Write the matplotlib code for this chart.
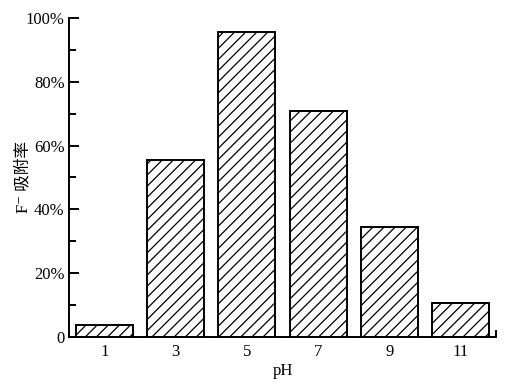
import matplotlib.pyplot as plt
import matplotlib as mpl
from matplotlib.ticker import MultipleLocator, FuncFormatter

# data
ph_labels = ['1', '3', '5', '7', '9', '11']
adsorption = [3.8, 55.5, 95.6, 70.8, 34.5, 10.7]  # F- adsorption rate, %

plt.rcParams['font.family'] = ['Liberation Serif', 'DejaVu Serif', 'Noto Sans CJK SC']
plt.rcParams['font.size'] = 12
mpl.rcParams['hatch.linewidth'] = 0.9

fig = plt.figure(figsize=(5.26, 3.85), dpi=100)
ax = fig.add_axes([0.131, 0.125, 0.812, 0.828])

x = range(len(ph_labels))
ax.bar(x, adsorption, width=0.8, color='white', edgecolor='black',
       linewidth=1.4, hatch='///')

ax.set_xlim(-0.5, 5.5)
ax.set_ylim(0, 100)
ax.set_xticks(list(x))
ax.set_xticklabels(ph_labels)
ax.tick_params(axis='x', length=0, pad=5)
ax.set_xticks([5.5], minor=True)
ax.tick_params(axis='x', which='minor', direction='in', length=5, width=1.4)

ax.yaxis.set_major_locator(MultipleLocator(20))
ax.yaxis.set_minor_locator(MultipleLocator(10))
ax.yaxis.set_major_formatter(FuncFormatter(lambda v, p: '0' if v == 0 else f'{v:.0f}%'))
ax.tick_params(axis='y', which='major', direction='in', length=7, width=1.4, pad=3)
ax.tick_params(axis='y', which='minor', direction='in', length=5, width=1.4)

for s in ['top', 'right']:
    ax.spines[s].set_visible(False)
for s in ['left', 'bottom']:
    ax.spines[s].set_linewidth(1.4)

ax.set_xlabel('pH', labelpad=2)
ax.set_ylabel('F⁻ 吸附率')
# label sits next to the narrower "60%" / "40%" labels, as in the original
ax.yaxis.set_label_coords(-0.088, 0.5)

plt.savefig('out.png', dpi=100)
